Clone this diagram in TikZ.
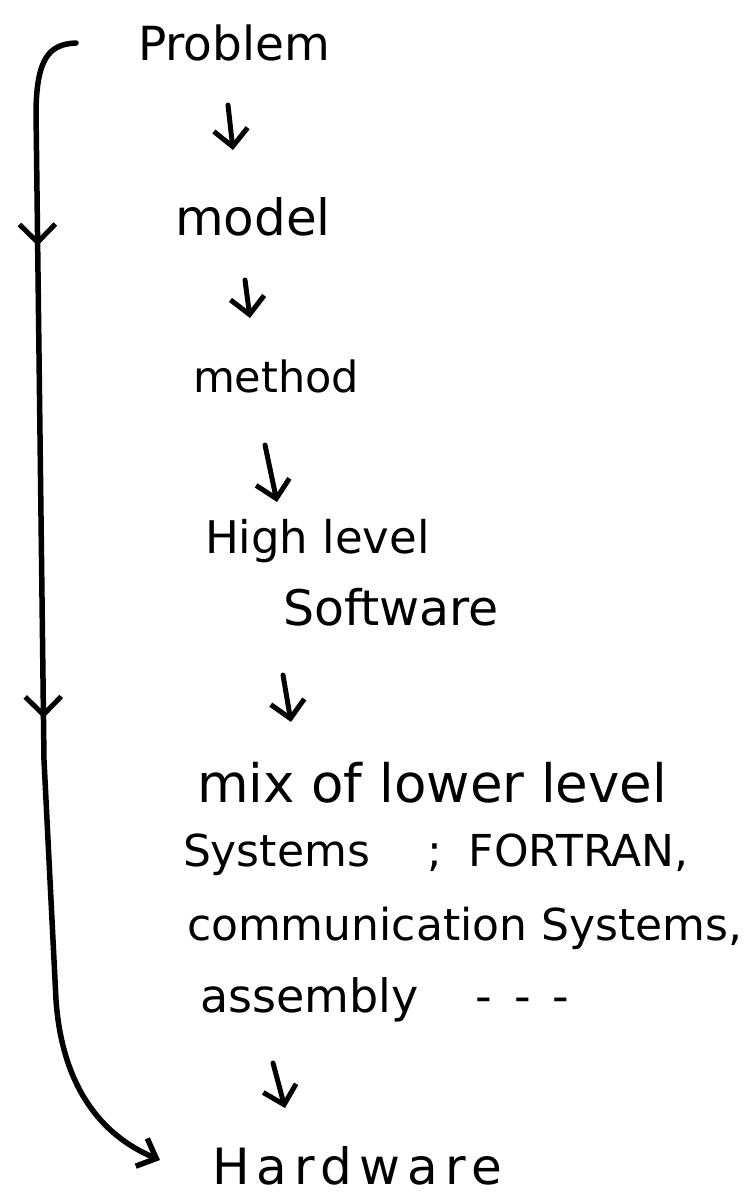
\documentclass[tikz,border=0pt]{standalone}
\usepackage{fontspec}
\setmainfont{DejaVu Sans}
\usetikzlibrary{arrows.meta,decorations.markings}
\newcommand{\fsz}[1]{\fontsize{#1}{#1}\selectfont}
\tikzset{
  hand/.style={anchor=base west, inner sep=0pt, outer sep=0pt},
  pen/.style={line width=5pt, line cap=round, line join=round},
  flow/.style={pen, -{Straight Barb[length=17pt,width=34pt]}},
  bigline/.style={line width=5.5pt, line cap=round, line join=round,
    -{Straight Barb[length=16pt,width=30pt]},
    postaction={decorate},
    decoration={markings,
      mark=at position 0.19 with {\arrow{Straight Barb[length=18pt,width=36pt,line width=5pt]}},
      mark=at position 0.59 with {\arrow{Straight Barb[length=18pt,width=36pt,line width=5pt]}}}}
}
\begin{document}
\begin{tikzpicture}[x=1pt,y=-1pt]
\useasboundingbox[fill=white] (0,0) rectangle (753,1195);

\node[hand, font=\fsz{47}] (problem) at (138,60) {Problem};
\node[hand, font=\fsz{50}] (model) at (175,235) {model};
\node[hand, font=\fsz{43}] (method) at (193,392) {method};
\node[hand, font=\fsz{45}] (high) at (205,553) {High level};
\node[hand, font=\fsz{49}] (soft) at (283,625) {Software};
\node[hand, font=\fsz{53}] (mix) at (197,802) {mix of lower level};
\node[hand, font=\fsz{44}] (sys) at (183,866) {Systems\hspace{58pt};\hspace{26pt}FORTRAN,};
\node[hand, font=\fsz{44}] (comm) at (187,940) {communication Systems,};
\node[hand, font=\fsz{46}] (asm) at (200,1012) {assembly\hspace{57pt}-\hspace{22pt}-\hspace{22pt}-};
\node[hand, font=\fsz{50}\addfontfeature{LetterSpace=14}] (hard) at (212,1184) {Hardware};

% small arrows between the stages
\coordinate (a1s) at (228,105);  \coordinate (a1e) at (233,150);
\coordinate (a2s) at (245,280);  \coordinate (a2e) at (250,318);
\coordinate (a3s) at (265,445);  \coordinate (a3e) at (277,502);
\coordinate (a4s) at (283,675);  \coordinate (a4e) at (291,722);
\coordinate (a5s) at (273,1063); \coordinate (a5e) at (285,1108);
\draw[flow] (a1s) -- (a1e);
\draw[flow] (a2s) -- (a2e);
\draw[flow] (a3s) -- (a3e);
\draw[flow] (a4s) -- (a4e);
\draw[flow] (a5s) -- (a5e);

% long line on the left, from Problem to Hardware
\coordinate (ltop) at (76,43);
\coordinate (lend) at (160,1160);
\draw[bigline] (ltop) .. controls (48,44) and (37,60) .. (36,110)
  -- (44,760) -- (56,1000)
  .. controls (62,1085) and (100,1135) .. (lend);
\end{tikzpicture}
\end{document}
